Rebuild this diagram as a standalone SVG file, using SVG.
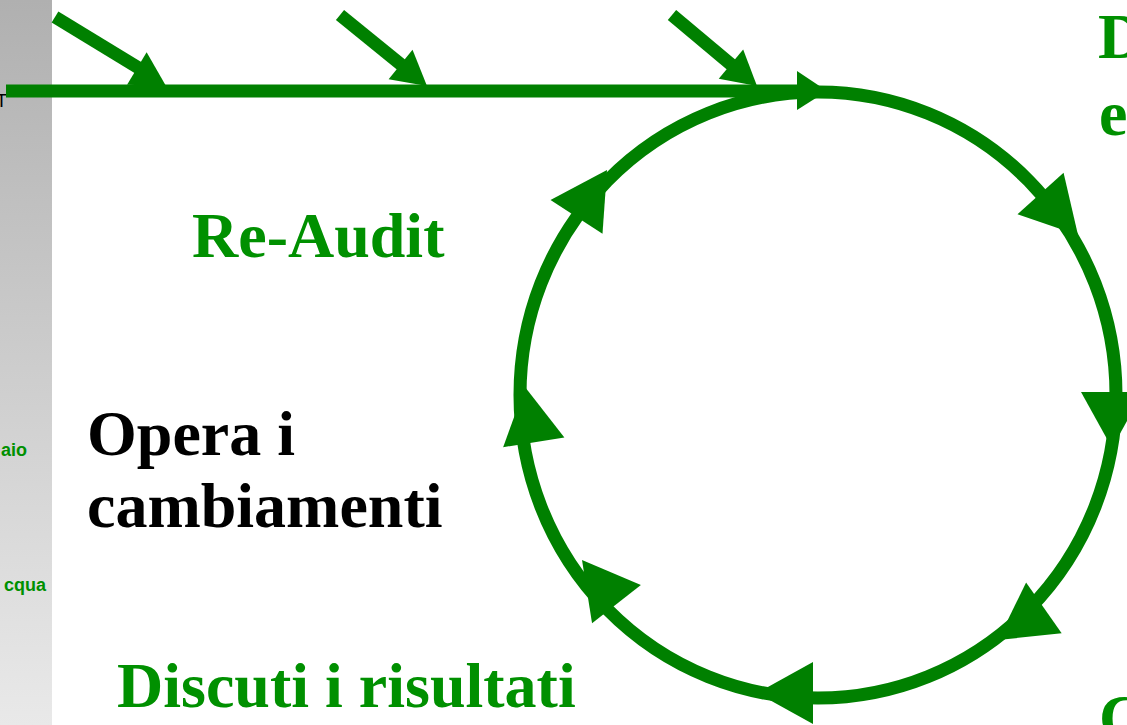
<svg xmlns="http://www.w3.org/2000/svg" xmlns:xlink="http://www.w3.org/1999/xlink" width="1127" height="725" viewBox="0 0 1127 725">
<defs>
<linearGradient id="strip" x1="0" y1="0" x2="0" y2="1">
<stop offset="0" stop-color="#b0b0b0"/>
<stop offset="1" stop-color="#e9e9e9"/>
</linearGradient>
<path id="ahBig" d="M0,0 L-56,-31 L-56,31 Z"/>
<path id="ahSm" d="M0,0 L-34,-19 L-34,19 Z"/>
</defs>
<style>
.ln{fill:none;stroke:#008000;stroke-width:13}
.hd{fill:#008000}
.big{font-family:"Liberation Serif","Times New Roman",serif;font-weight:bold;font-size:64px}
.g{fill:#009000}
.k{fill:#000000}
.side{font-family:"Liberation Sans",Arial,sans-serif;font-weight:bold;font-size:18px;fill:#009000;text-anchor:end}
</style>
<rect x="0" y="0" width="1127" height="725" fill="#ffffff"/>
<g id="sidebar">
<rect x="0" y="0" width="52" height="725" fill="url(#strip)"/>
<text x="7" y="107" font-family="Liberation Sans,Arial,sans-serif" font-size="18" text-anchor="end" fill="#000">T</text>
<text class="side" x="27" y="456">aio</text>
<text class="side" x="46" y="591">cqua</text>
</g>
<g id="connectors">
<line class="ln" x1="6" y1="91" x2="800" y2="91"/>
<ellipse class="ln" cx="818" cy="395" rx="298" ry="303"/>
<line class="ln" x1="55" y1="17" x2="142" y2="70"/>
<line class="ln" x1="340" y1="15" x2="404" y2="67"/>
<line class="ln" x1="672" y1="15" x2="734" y2="67"/>
<use href="#ahSm" class="hd" transform="translate(166,86) rotate(31)"/>
<use href="#ahSm" class="hd" transform="translate(427,86) rotate(39)"/>
<use href="#ahSm" class="hd" transform="translate(757,86) rotate(40)"/>
<path class="hd" d="M827,91 L797,71 L797,110 Z"/>
<use href="#ahBig" class="hd" transform="translate(1078,235) rotate(48)"/>
<use href="#ahBig" class="hd" transform="translate(1112,448) rotate(90)"/>
<use href="#ahBig" class="hd" transform="translate(998,640) rotate(145)"/>
<use href="#ahBig" class="hd" transform="translate(757,693) rotate(180)"/>
<use href="#ahBig" class="hd" transform="translate(582,560) rotate(232)"/>
<use href="#ahBig" class="hd" transform="translate(525,387) rotate(-99)"/>
<use href="#ahBig" class="hd" transform="translate(607,170) rotate(-57)"/>
</g>
<g id="node-reaudit"><text class="big g" x="192" y="257">Re-Audit</text></g>
<g id="node-opera"><text class="big k" x="87" y="455">Opera i</text><text class="big k" x="87" y="527">cambiamenti</text></g>
<g id="node-discuti"><text class="big g" x="117" y="707">Discuti i risultati</text></g>
<g id="node-topright"><text class="big g" x="1098" y="58">D</text><text class="big g" x="1099" y="135">e</text></g>
<g id="node-bottomright"><text class="big g" x="1099" y="739">C</text></g>
</svg>
